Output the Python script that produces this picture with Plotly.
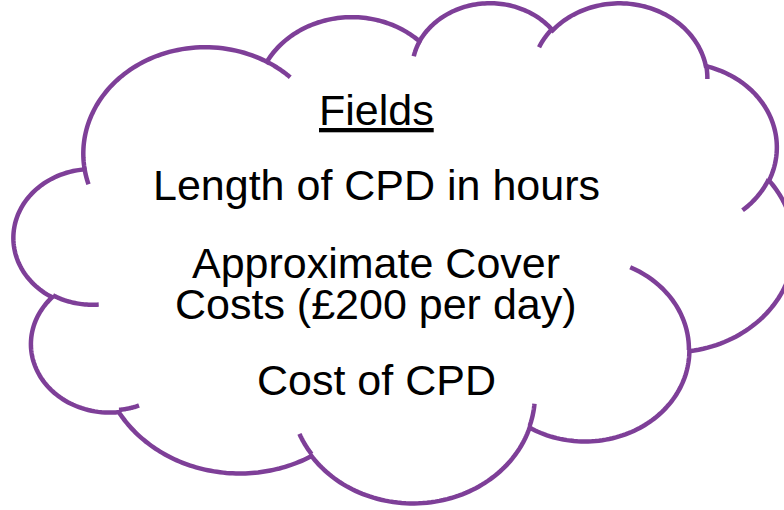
import numpy as np
import plotly.graph_objects as go

# ---- cloud geometry (DrawingML preset "cloud", 43200 x 43200 path space) ----
outline_start = (3900, 14370)
outline_wR = [6753, 5333, 4365, 4857, 5333, 6775, 5785, 6752, 7720, 4360, 4345]
outline_hR = [9190, 7267, 5945, 6595, 7273, 9220, 7867, 9215, 10543, 5918, 5945]
outline_st = [-11429249, -8646143, -8748475, -7859164, -4722533, -2776035,
              37501, 1347096, 3974558, -16496525, -14809710]
outline_sw = [7426832, 5396714, 5983381, 7034504, 6541615, 7816140,
              6842000, 6910353, 4542661, 8804134, 9151131]

tail_start = [(4693, 26177), (6928, 34899), (16478, 39090), (28827, 34751),
              (34129, 22954), (41798, 15354), (38324, 5426), (29078, 3952),
              (22141, 4720), (14000, 5192), (4127, 15789)]
tail_wR = [4345, 4360, 6752, 6752, 5785, 5333, 4857, 4857, 4365, 6753, 6753]
tail_hR = [5945, 5918, 9215, 9215, 7867, 7273, 6595, 6595, 5945, 9190, 9190]
tail_st = [5204520, 4416628, 8257449, 387196, -4217541, 1819082, -824660,
           -8950887, -9809656, -4002417, 9459261]
tail_sw = [1585770, 686848, 844866, 959901, 4255042, 1665090, 891534,
           1091722, 1061181, 739161, 711490]

# shape box on the page (pixels)
box_x0, box_y0, box_w, box_h = 14.0, 1.6, 780.0, 500.0

# ---- text ----
title_text = "Fields"
field_lines = ["Length of CPD in hours", "Approximate Cover",
               "Costs (£200 per day)", "Cost of CPD"]
line_baselines = [124, 199, 277, 318, 394]
text_cx = 376

LINE_COLOR = "#7E3F98"


def arc_to(cur, wR, hR, st, sw, n=80):
    st = np.radians(st / 60000.0)
    sw = np.radians(sw / 60000.0)

    def par(a):
        return np.arctan2(wR * np.sin(a), hR * np.cos(a))

    t0 = par(st)
    cx = cur[0] - wR * np.cos(t0)
    cy = cur[1] - hR * np.sin(t0)
    a = st + sw * np.linspace(0, 1, n)
    t = np.unwrap(par(a))
    t = t - (t[0] - t0)
    xs = cx + wR * np.cos(t)
    ys = cy + hR * np.sin(t)
    return list(zip(xs, ys))


def to_px(p):
    return (box_x0 + p[0] / 43200.0 * box_w, box_y0 + p[1] / 43200.0 * box_h)


def pts_to_path(pts, close=False):
    s = "M " + " L ".join(f"{x:.2f},{y:.2f}" for x, y in pts)
    if close:
        s += " Z"
    return s


cur = outline_start
outline_pts = [cur]
for wR, hR, st, sw in zip(outline_wR, outline_hR, outline_st, outline_sw):
    seg = arc_to(cur, wR, hR, st, sw)
    outline_pts.extend(seg[1:])
    cur = seg[-1]
outline_px = [to_px(p) for p in outline_pts]

tail_paths = []
for p0, wR, hR, st, sw in zip(tail_start, tail_wR, tail_hR, tail_st, tail_sw):
    seg = arc_to(p0, wR, hR, st, sw, n=30)
    tail_paths.append(pts_to_path([to_px(p) for p in seg]))

fig = go.Figure()
shapes = [dict(type="path", path=pts_to_path(outline_px, close=True),
               xref="x", yref="y", fillcolor="white",
               line=dict(color=LINE_COLOR, width=4.5), layer="above")]
for tp in tail_paths:
    shapes.append(dict(type="path", path=tp, xref="x", yref="y",
                       line=dict(color=LINE_COLOR, width=4.5), layer="above"))

font = dict(family="Liberation Sans, Arial, sans-serif", size=43, color="black")
texts = ["<u>" + title_text + "</u>"] + field_lines
annotations = []
for t, b in zip(texts, line_baselines):
    annotations.append(dict(x=text_cx, y=b - 14, xref="x", yref="y", text=t,
                            showarrow=False, font=font, xanchor="center",
                            yanchor="middle"))

fig.update_layout(
    width=784, height=510, autosize=False,
    margin=dict(l=0, r=0, t=0, b=0),
    paper_bgcolor="white", plot_bgcolor="white",
    xaxis=dict(range=[0, 784], visible=False, fixedrange=True),
    yaxis=dict(range=[510, 0], visible=False, fixedrange=True),
    shapes=shapes, annotations=annotations, showlegend=False,
)
fig.write_html(
    "out.html",
    config={"displayModeBar": False, "staticPlot": True},
    post_script="document.body.style.margin='0';document.body.style.overflow='hidden';",
)
